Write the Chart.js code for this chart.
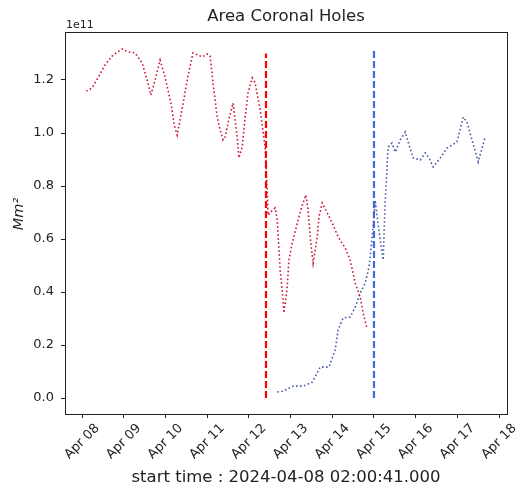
<!DOCTYPE html>
<html>
<head>
<meta charset="utf-8">
<script src="https://cdn.jsdelivr.net/npm/chart.js@4.4.1/dist/chart.umd.min.js"></script>
<style>
  html, body { margin: 0; padding: 0; background: #fff; }
  canvas { display: block; }
</style>
</head>
<body>
<canvas id="chart" width="516" height="493"></canvas>
<script>
// Valeurs : temps en jours d'avril 2024, aires en 1e11 Mm²
const redDays = [8.10, 8.24, 8.38, 8.55, 8.74, 8.96, 9.10, 9.27, 9.44, 9.58, 9.65, 9.77, 9.87, 9.99, 10.13, 10.21, 10.28, 10.35, 10.45, 10.54, 10.66, 10.78, 10.88, 11.00, 11.07, 11.14, 11.24, 11.31, 11.38, 11.43, 11.50, 11.62, 11.67, 11.72, 11.76, 11.84, 11.91, 11.98, 12.08, 12.15, 12.27, 12.39, 12.44, 12.46, 12.56, 12.63, 12.68, 12.75, 12.82, 12.84, 12.92, 12.96, 13.04, 13.18, 13.28, 13.37, 13.42, 13.47, 13.54, 13.64, 13.68, 13.76, 14.00, 14.14, 14.31, 14.43, 14.55, 14.67, 14.74, 14.83];
const redArea = [1.158, 1.170, 1.208, 1.257, 1.294, 1.317, 1.306, 1.302, 1.264, 1.189, 1.143, 1.211, 1.275, 1.211, 1.113, 1.030, 0.992, 1.049, 1.136, 1.215, 1.302, 1.294, 1.287, 1.298, 1.291, 1.189, 1.060, 1.011, 0.974, 0.985, 1.038, 1.113, 1.049, 0.985, 0.906, 0.947, 1.060, 1.151, 1.208, 1.189, 1.087, 0.947, 0.785, 0.690, 0.709, 0.717, 0.672, 0.483, 0.370, 0.321, 0.419, 0.521, 0.585, 0.672, 0.728, 0.766, 0.709, 0.608, 0.509, 0.608, 0.683, 0.736, 0.660, 0.608, 0.566, 0.521, 0.434, 0.381, 0.321, 0.264];

const blueDays = [12.68, 12.82, 13.06, 13.30, 13.52, 13.71, 13.92, 14.07, 14.14, 14.26, 14.43, 14.55, 14.67, 14.79, 14.88, 14.95, 15.03, 15.07, 15.15, 15.22, 15.27, 15.34, 15.43, 15.51, 15.63, 15.75, 15.84, 15.94, 16.11, 16.23, 16.32, 16.42, 16.59, 16.75, 16.99, 17.14, 17.23, 17.35, 17.50, 17.59, 17.66];
const blueArea = [0.023, 0.026, 0.045, 0.045, 0.060, 0.117, 0.117, 0.181, 0.257, 0.302, 0.306, 0.343, 0.396, 0.434, 0.494, 0.596, 0.747, 0.691, 0.596, 0.521, 0.747, 0.947, 0.962, 0.928, 0.974, 1.004, 0.955, 0.906, 0.898, 0.925, 0.906, 0.872, 0.906, 0.943, 0.966, 1.060, 1.042, 0.974, 0.891, 0.943, 0.981];

// Lignes verticales (début / fin)
const redMarkerDay = 12.41;
const redMarkerSpan = [0, 1.30];
const blueMarkerDay = 15.0;
const blueMarkerSpan = [0, 1.32];

// Axes
const tickDays = [8, 9, 10, 11, 12, 13, 14, 15, 16, 17, 18];
const tickLabels = ['Apr 08', 'Apr 09', 'Apr 10', 'Apr 11', 'Apr 12', 'Apr 13', 'Apr 14', 'Apr 15', 'Apr 16', 'Apr 17', 'Apr 18'];
const yTicks = [0, 0.2, 0.4, 0.6, 0.8, 1.0, 1.2];

const toPoints = (xs, ys) => xs.map((x, i) => ({ x: x, y: ys[i] }));

const FONT = 'DejaVu Sans';
const TEXT = '#222';

// Cadre, titres, facteur d'échelle et étiquettes tournées (centrées sur le tick)
const decorations = {
    id: 'decorations',
    afterDraw(chart) {
        const { ctx, chartArea } = chart;
        const xScale = chart.scales.x;
        ctx.save();
        ctx.strokeStyle = TEXT;
        ctx.lineWidth = 1;
        ctx.strokeRect(Math.round(chartArea.left) + 0.5, Math.round(chartArea.top) + 0.5,
            Math.round(chartArea.right - chartArea.left), Math.round(chartArea.bottom - chartArea.top));
        ctx.fillStyle = TEXT;

        ctx.font = '16.5px "' + FONT + '"';
        ctx.textAlign = 'center';
        ctx.textBaseline = 'middle';
        ctx.fillText('Area Coronal Holes', (chartArea.left + chartArea.right) / 2, 17);

        ctx.font = '11px "' + FONT + '"';
        ctx.textAlign = 'left';
        ctx.textBaseline = 'alphabetic';
        ctx.fillText('1e11', chartArea.left + 1, chartArea.top - 4);

        // étiquette de l'axe y
        ctx.save();
        ctx.translate(19, 214);
        ctx.rotate(-Math.PI / 2);
        ctx.font = 'italic 14.5px "' + FONT + '"';
        ctx.textAlign = 'center';
        ctx.textBaseline = 'middle';
        ctx.fillText('Mm²', 0, 0);
        ctx.restore();

        // étiquettes x tournées à 45°
        ctx.font = '13px "' + FONT + '"';
        ctx.textAlign = 'center';
        ctx.textBaseline = 'middle';
        const h = 15;
        tickDays.forEach((d, i) => {
            const w = ctx.measureText(tickLabels[i]).width;
            const half = (w + h) * Math.SQRT1_2 / 2;
            const px = xScale.getPixelForValue(d);
            ctx.save();
            ctx.translate(px, chartArea.bottom + 7 + half);
            ctx.rotate(-Math.PI / 4);
            ctx.fillText(tickLabels[i], 0, 0);
            ctx.restore();
        });
        ctx.restore();
    }
};

new Chart(document.getElementById('chart'), {
    type: 'line',
    data: {
        datasets: [
            {
                data: toPoints(redDays, redArea),
                borderColor: '#d01838',
                borderWidth: 1.6,
                borderDash: [1.6, 2.4],
                pointRadius: 0,
                tension: 0
            },
            {
                data: toPoints(blueDays, blueArea),
                borderColor: '#4a5aa8',
                borderWidth: 1.6,
                borderDash: [1.6, 2.4],
                pointRadius: 0,
                tension: 0
            },
            {
                data: toPoints([redMarkerDay, redMarkerDay], redMarkerSpan),
                borderColor: '#ff0000',
                borderWidth: 2.2,
                borderDash: [7, 3],
                pointRadius: 0
            },
            {
                data: toPoints([blueMarkerDay, blueMarkerDay], blueMarkerSpan),
                borderColor: '#4169e1',
                borderWidth: 2.2,
                borderDash: [7, 3],
                pointRadius: 0
            }
        ]
    },
    options: {
        responsive: false,
        animation: false,
        devicePixelRatio: 1,
        layout: { padding: { top: 32, right: 9, left: 0, bottom: 0 } },
        plugins: {
            legend: { display: false },
            tooltip: { enabled: false }
        },
        scales: {
            x: {
                type: 'linear',
                min: 7.59,
                max: 18.19,
                afterFit(scale) {
                    scale.height = 79;
                    scale.paddingLeft = 0;
                    scale.paddingRight = 0;
                },
                afterBuildTicks(scale) { scale.ticks = tickDays.map(v => ({ value: v })); },
                border: { display: false },
                grid: { drawOnChartArea: false, tickLength: 4, color: TEXT },
                ticks: { display: false },
                title: {
                    display: true,
                    text: 'start time : 2024-04-08 02:00:41.000',
                    color: TEXT,
                    font: { family: FONT, size: 16.5 },
                    padding: { top: 0, bottom: 5 }
                }
            },
            y: {
                min: -0.06,
                max: 1.381,
                afterFit(scale) {
                    scale.width = 65;
                    scale.paddingTop = 0;
                    scale.paddingBottom = 0;
                },
                afterBuildTicks(scale) { scale.ticks = yTicks.map(v => ({ value: v })); },
                border: { display: false },
                grid: { drawOnChartArea: false, tickLength: 4, color: TEXT },
                ticks: {
                    padding: 7,
                    color: TEXT,
                    font: { family: FONT, size: 13 },
                    callback: (v) => v.toFixed(1)
                },
                title: { display: false }
            }
        }
    },
    plugins: [decorations]
});
</script>
</body>
</html>
